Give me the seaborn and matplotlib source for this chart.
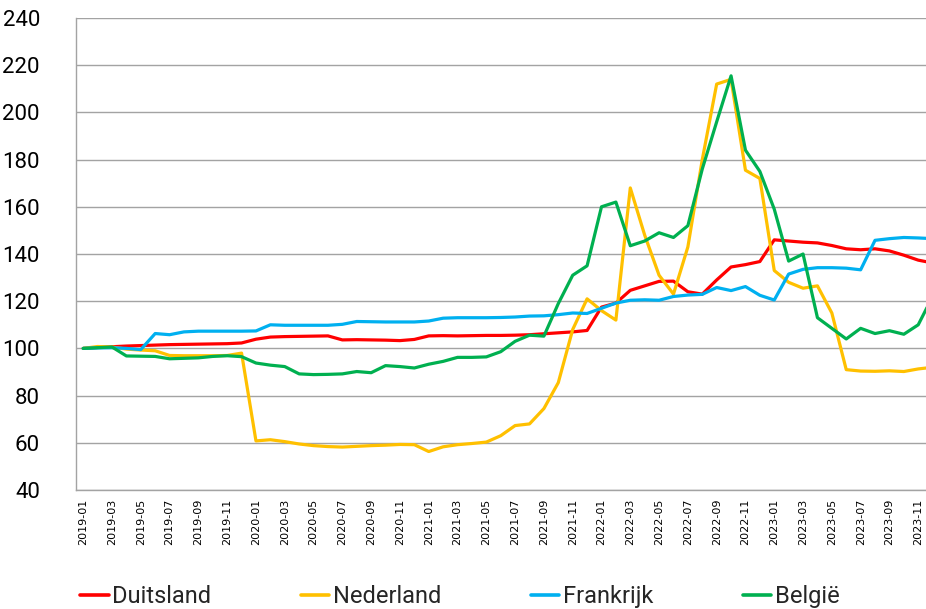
import matplotlib
matplotlib.use("Agg")
import matplotlib.pyplot as plt
import seaborn as sns
import pandas as pd
import numpy as np

months = [f"{y}-{m:02d}" for y in range(2019, 2024) for m in range(1, 13)]

duitsland = [100, 100.4, 100.7, 101.0, 101.2, 101.4, 101.6, 101.7, 101.8, 101.9, 102.0, 102.3,
             103.9, 104.8, 105.0, 105.1, 105.2, 105.3, 103.6, 103.7, 103.6, 103.5, 103.3, 103.8,
             105.3, 105.4, 105.3, 105.4, 105.5, 105.5, 105.6, 105.8, 106.2, 106.6, 107.0, 107.6,
             117.5, 119.2, 124.6, 126.5, 128.4, 128.5, 124.0, 123.0, 129.0, 134.5, 135.5, 136.8,
             146.0, 145.5, 145.0, 144.7, 143.6, 142.2, 141.8, 142.2, 141.3, 139.5, 137.4, 136.2]

nederland = [100, 100.8, 100.6, 99.7, 99.3, 99.0, 97.0, 96.9, 96.9, 96.9, 97.0, 98.0,
             60.8, 61.3, 60.5, 59.5, 58.8, 58.4, 58.2, 58.5, 58.8, 59.0, 59.3, 59.2,
             56.3, 58.3, 59.2, 59.7, 60.3, 63.0, 67.3, 68.0, 74.5, 85.5, 108.0, 121.0,
             116.0, 112.0, 168.0, 148.0, 131.0, 123.0, 143.0, 180.0, 212.0, 214.0, 175.5, 172.0,
             133.0, 128.0, 125.5, 126.5, 115.0, 91.0, 90.4, 90.3, 90.5, 90.2, 91.3, 92.0]

frankrijk = [100, 100.2, 100.3, 100.0, 99.5, 106.3, 105.8, 107.0, 107.3, 107.3, 107.3, 107.3,
             107.4, 110.0, 109.8, 109.8, 109.8, 109.8, 110.2, 111.4, 111.3, 111.2, 111.2, 111.2,
             111.6, 112.8, 113.0, 113.0, 113.0, 113.1, 113.3, 113.7, 113.8, 114.3, 115.0, 114.8,
             117.0, 119.2, 120.4, 120.6, 120.4, 122.0, 122.6, 122.9, 125.8, 124.5, 126.2, 122.5,
             120.5, 131.5, 133.5, 134.2, 134.2, 134.0, 133.3, 145.8, 146.5, 147.0, 146.8, 146.5]

belgie = [100, 100.3, 100.6, 96.8, 96.7, 96.6, 95.6, 95.8, 96.0, 96.6, 96.9, 96.5,
          93.8, 92.9, 92.3, 89.2, 88.9, 89.0, 89.2, 90.2, 89.7, 92.7, 92.3, 91.7,
          93.3, 94.5, 96.2, 96.2, 96.4, 98.6, 103.0, 105.6, 105.2, 119.0, 131.0, 135.0,
          160.0, 162.0, 143.5, 145.5, 149.0, 147.0, 152.0, 176.0, 196.0, 215.5, 184.0, 175.0,
          159.0, 137.0, 140.0, 113.0, 108.5, 104.0, 108.5, 106.3, 107.5, 106.0, 110.0, 122.0]

series_names = ["Duitsland", "Nederland", "Frankrijk", "België"]
colors = ["#FF0000", "#FFC000", "#00B0F0", "#00B050"]

frames = []
for name, vals in zip(series_names, [duitsland, nederland, frankrijk, belgie]):
    frames.append(pd.DataFrame({"idx": np.arange(len(months)), "maand": months,
                                "waarde": vals, "land": name}))
df = pd.concat(frames, ignore_index=True)

sns.set_theme(style="white")
plt.rcParams["font.family"] = ["Roboto", "DejaVu Sans"]

fig = plt.figure(figsize=(9.26, 6.09), dpi=100)
ax = fig.add_axes([76 / 926, (609 - 490) / 609, 850 / 926, 472 / 609])

sns.lineplot(data=df, x="idx", y="waarde", hue="land", hue_order=series_names,
             palette=colors, linewidth=2.3, ax=ax, legend=False,
             solid_joinstyle="round", solid_capstyle="round")

ax.set_xlim(-0.5, 58.54)
ax.set_ylim(40, 240)
ax.set_yticks(np.arange(40, 241, 20))
ax.grid(axis="y", color="#A3A3A3", linewidth=1.0)
ax.set_axisbelow(True)
ax.tick_params(axis="y", which="major", length=9, color="#A3A3A3", width=1.0,
               labelsize=16, pad=17, labelcolor="#000000")
for lab in ax.get_yticklabels():
    lab.set_fontfamily(["Roboto", "DejaVu Sans"])

ax.set_xticks(np.arange(0, 59, 2))
ax.set_xticklabels([months[i] for i in range(0, 59, 2)], rotation=90,
                   fontsize=8, family="DejaVu Sans")
ax.set_xticks(np.arange(-0.5, 59, 1), minor=True)
ax.tick_params(axis="x", which="major", length=0, pad=6, labelcolor="#000000")
ax.tick_params(axis="x", which="minor", length=5, color="#A3A3A3", width=1.0)
ax.set_xlabel("")
ax.set_ylabel("")

for s in ["top", "right"]:
    ax.spines[s].set_visible(False)
for s in ["left", "bottom"]:
    ax.spines[s].set_color("#A3A3A3")
    ax.spines[s].set_linewidth(1.0)

handles = [plt.Line2D([0], [0], color=c, linewidth=2.6) for c in colors]
fs = 17
leg = fig.legend(handles, series_names, ncol=4, loc="lower left",
                 bbox_to_anchor=(84 / 926 - 0.004, 0.002), frameon=False,
                 fontsize=fs, handlelength=1.2, handletextpad=0.15,
                 columnspacing=3.8, borderpad=0.0, borderaxespad=0.0)

fig.savefig("out.png", dpi=100)
